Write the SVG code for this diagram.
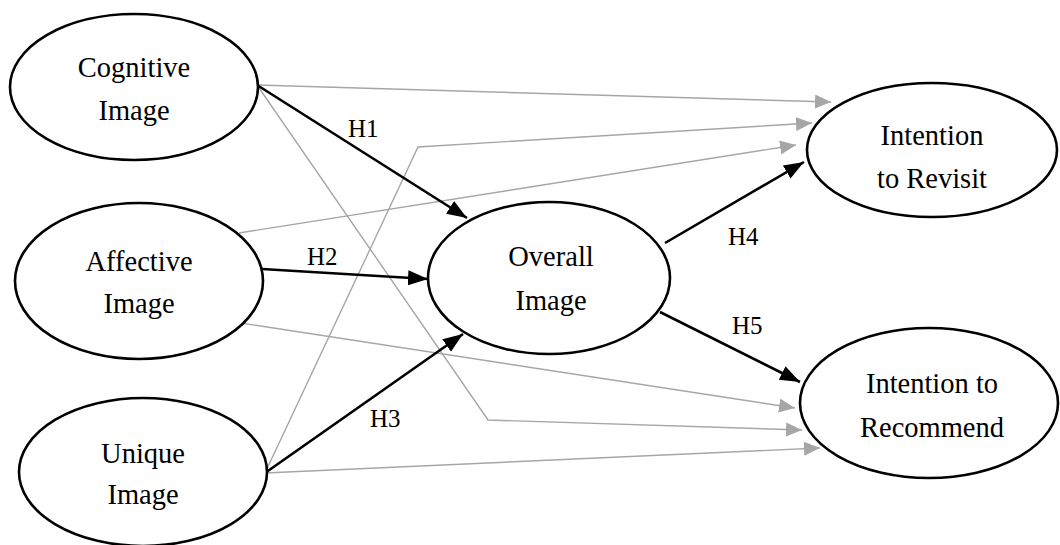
<svg xmlns="http://www.w3.org/2000/svg" width="1060" height="545" viewBox="0 0 1060 545">
<style>
.node{fill:#fff;stroke:#000;stroke-width:2.6}
.nt{font-family:'Liberation Serif','Times New Roman',Times,serif;font-size:28.5px;fill:#000;text-anchor:middle}
.lbl{font-family:'Liberation Serif','Times New Roman',Times,serif;font-size:25px;fill:#000}
.g{fill:none;stroke:#a6a6a6;stroke-width:1.4;marker-end:url(#ag)}
.b{fill:none;stroke:#000;stroke-width:2.6;marker-end:url(#ab)}
</style>
<defs>
<marker id="ag" markerUnits="userSpaceOnUse" markerWidth="17" markerHeight="15" refX="16" refY="7" orient="auto"><path d="M0,0 L16,7 L0,14 z" fill="#a6a6a6"/></marker>
<marker id="ab" markerUnits="userSpaceOnUse" markerWidth="21" markerHeight="16" refX="20" refY="7.5" orient="auto"><path d="M0,0 L20,7.5 L0,15 z" fill="#000"/></marker>
</defs>
<rect width="1060" height="545" fill="#fff"/>
<g id="connectors">
<path class="g" d="M257,85 L831,102"/>
<path class="g" d="M257,85 L488,420 L802,430"/>
<path class="g" d="M239,233 L796,145"/>
<path class="g" d="M234,322 L795,408"/>
<path class="g" d="M265,473 L418,147 L812,123"/>
<path class="g" d="M265,473 L820,448"/>
<path class="b" d="M257,85 L467,218"/>
<path class="b" d="M262,269 L428,279"/>
<path class="b" d="M265,473 L463,334"/>
<path class="b" d="M665,243 L804,162"/>
<path class="b" d="M660,312 L800,382"/>
<text class="lbl" x="348" y="137">H1</text>
<text class="lbl" x="307" y="265">H2</text>
<text class="lbl" x="370" y="427">H3</text>
<text class="lbl" x="728" y="245">H4</text>
<text class="lbl" x="732" y="334">H5</text>
</g>
<g id="cognitive">
<ellipse class="node" cx="134" cy="87" rx="124" ry="73"/>
<text class="nt" x="134" y="77">Cognitive</text>
<text class="nt" x="134" y="120">Image</text>
</g>
<g id="affective">
<ellipse class="node" cx="139" cy="281" rx="124" ry="78"/>
<text class="nt" x="139" y="271">Affective</text>
<text class="nt" x="139" y="313">Image</text>
</g>
<g id="unique">
<ellipse class="node" cx="143" cy="472" rx="124" ry="74"/>
<text class="nt" x="143" y="463">Unique</text>
<text class="nt" x="143" y="504">Image</text>
</g>
<g id="overall">
<ellipse class="node" cx="549" cy="278" rx="121" ry="76"/>
<text class="nt" x="551" y="266">Overall</text>
<text class="nt" x="551" y="310">Image</text>
</g>
<g id="revisit">
<ellipse class="node" cx="932" cy="150" rx="125" ry="67"/>
<text class="nt" x="932" y="145">Intention</text>
<text class="nt" x="932" y="188">to Revisit</text>
</g>
<g id="recommend">
<ellipse class="node" cx="929" cy="403" rx="129" ry="75"/>
<text class="nt" x="932" y="393">Intention to</text>
<text class="nt" x="932" y="437">Recommend</text>
</g>
</svg>
